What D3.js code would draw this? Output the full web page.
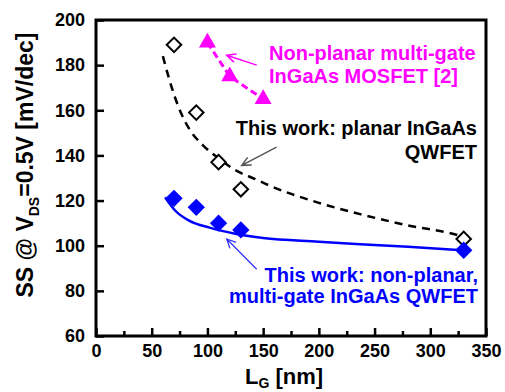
<!DOCTYPE html>
<html>
<head>
<meta charset="utf-8">
<script src="https://cdn.jsdelivr.net/npm/d3@7/dist/d3.min.js"></script>
<style>
  html, body { margin: 0; padding: 0; background: #fff; }
  svg { display: block; font-family: Arial, "Liberation Sans", sans-serif; font-weight: bold; }
</style>
</head>
<body>
<svg id="chart" width="505" height="392"></svg>
<script>
// Measured subthreshold swing vs gate length
const planarLg = [70, 90, 110, 130, 330];
const planarSS = [189, 159, 137, 125, 103];

const multiGateLg = [70, 90, 110, 130, 330];
const multiGateSS = [121, 117, 110, 107, 98];

const mosfetLg = [100, 120, 150];
const mosfetSS = [190, 175, 165];

// Trend curves drawn through each data set
const planarFitLg = [60, 65, 70, 77, 84, 96, 108, 125, 143, 155, 200, 237, 280, 320, 330];
const planarFitSS = [184, 175, 167, 158, 151.5, 144.5, 139.5, 133.5, 129.5, 126.8, 119, 114, 109, 105.3, 104];

const multiGateFitLg = [62, 71, 84, 102, 126, 150, 200, 237, 280, 330];
const multiGateFitSS = [121.5, 115.6, 111, 108, 105.2, 103.4, 101.8, 100.7, 99.5, 98];

// Axis ticks
const xTicks = [0, 50, 100, 150, 200, 250, 300, 350];
const xMinorTicks = [25, 75, 125, 175, 225, 275, 325];
const yTicks = [60, 80, 100, 120, 140, 160, 180, 200];

const margin = { top: 20, right: 19, bottom: 56, left: 96 };
const W = 505, H = 392;
const iw = W - margin.left - margin.right;
const ih = H - margin.top - margin.bottom;

const svg = d3.select("#chart");
const g = svg.append("g").attr("transform", `translate(${margin.left},${margin.top})`);

const x = d3.scaleLinear().domain([0, 350]).range([0, iw]);
const y = d3.scaleLinear().domain([60, 200]).range([ih, 0]);

// Axes with inward ticks
const xAxis = g.append("g").attr("transform", `translate(0,${ih})`)
  .call(d3.axisBottom(x).tickValues(xTicks).tickSize(-8).tickPadding(8));
const xMinor = g.append("g").attr("transform", `translate(0,${ih})`)
  .call(d3.axisBottom(x).tickValues(xMinorTicks).tickSize(-5).tickFormat(""));
const yAxis = g.append("g")
  .call(d3.axisLeft(y).tickValues(yTicks).tickSize(-8).tickPadding(11));

[xAxis, xMinor, yAxis].forEach(a => {
  a.select(".domain").remove();
  a.selectAll(".tick line").attr("stroke", "#000").attr("stroke-width", 2.5);
  a.selectAll(".tick text").attr("fill", "#000")
    .style("font-size", "18px").style("font-weight", "bold")
    .style("font-family", "Arial, 'Liberation Sans', sans-serif");
});

// Frame
g.append("rect").attr("x", 0).attr("y", 0).attr("width", iw).attr("height", ih)
  .attr("fill", "none").attr("stroke", "#000").attr("stroke-width", 3);

const line = d3.line().x(d => x(d[0])).y(d => y(d[1]));

// Planar trend (dashed black)
g.append("path")
  .datum(d3.zip(planarFitLg, planarFitSS))
  .attr("d", line.curve(d3.curveMonotoneX))
  .attr("fill", "none").attr("stroke", "#000").attr("stroke-width", 2.5)
  .attr("stroke-dasharray", "8,6");

// Multi-gate trend (solid blue)
g.append("path")
  .datum(d3.zip(multiGateFitLg, multiGateFitSS))
  .attr("d", line.curve(d3.curveMonotoneX))
  .attr("fill", "none").attr("stroke", "#0000ff").attr("stroke-width", 2.5);

// MOSFET connecting line (dashed magenta)
g.append("path")
  .datum(d3.zip(mosfetLg, mosfetSS))
  .attr("d", line.curve(d3.curveLinear))
  .attr("fill", "none").attr("stroke", "#ff00ff").attr("stroke-width", 3)
  .attr("stroke-dasharray", "7,4");

// Markers
const diamond = d3.symbol(d3.symbolSquare, 105)();
const fullDiamond = d3.symbol(d3.symbolSquare, 150)();
const tri = d3.symbol(d3.symbolTriangle, 125)();

g.selectAll(".planar").data(d3.zip(planarLg, planarSS)).join("path")
  .attr("d", diamond)
  .attr("transform", d => `translate(${x(d[0])},${y(d[1])}) rotate(45)`)
  .attr("fill", "#fff").attr("stroke", "#000").attr("stroke-width", 2);

g.selectAll(".multigate").data(d3.zip(multiGateLg, multiGateSS)).join("path")
  .attr("d", fullDiamond)
  .attr("transform", d => `translate(${x(d[0])},${y(d[1])}) rotate(45)`)
  .attr("fill", "#0000ff");

g.selectAll(".mosfet").data(d3.zip(mosfetLg, mosfetSS)).join("path")
  .attr("d", tri)
  .attr("transform", d => `translate(${x(d[0])},${y(d[1])})`)
  .attr("fill", "#ff00ff");

// Annotation arrows, tail and tip in data units
const arrows = [
  { from: [144.2, 180], to: [117.3, 184.4], color: "#ff00ff", w: 1.5 },
  { from: [162, 143.7], to: [130.8, 135.6], color: "#555555", w: 1.5 },
  { from: [144.2, 89.6], to: [117.3, 103], color: "#3333ff", w: 1.3 }
];
arrows.forEach(a => {
  const x1 = x(a.from[0]), y1 = y(a.from[1]), x2 = x(a.to[0]), y2 = y(a.to[1]);
  const ang = Math.atan2(y2 - y1, x2 - x1);
  const L = 10, spread = Math.PI / 7;
  const p1 = [x2 - L * Math.cos(ang - spread), y2 - L * Math.sin(ang - spread)];
  const p2 = [x2 - L * Math.cos(ang + spread), y2 - L * Math.sin(ang + spread)];
  g.append("path")
    .attr("d", `M${x1},${y1}L${x2},${y2}M${p1[0]},${p1[1]}L${x2},${y2}L${p2[0]},${p2[1]}`)
    .attr("fill", "none").attr("stroke", a.color).attr("stroke-width", a.w);
});

// Annotation text, anchored in data units
function label(lines, color, anchor, xv, yv, dy) {
  const t = g.append("text")
    .attr("fill", color).attr("text-anchor", anchor)
    .style("font-size", "20px");
  lines.forEach((s, i) => {
    t.append("tspan").attr("x", x(xv)).attr("y", y(yv) + i * dy).text(s);
  });
}
label(["Non-planar multi-gate", "InGaAs MOSFET [2]"], "#ff00ff", "start", 155.3, 182.2, 22.6);
label(["This work: planar InGaAs", "QWFET"], "#000", "end", 341.9, 149.0, 23.5);
label(["This work: non-planar,", "multi-gate InGaAs QWFET"], "#0000ff", "end", 342.8, 84.0, 21.5);

// Axis titles
const xt = svg.append("text")
  .attr("x", 245).attr("y", 384)
  .attr("fill", "#000").style("font-size", "22px");
xt.append("tspan").text("L");
xt.append("tspan").attr("dy", 4).style("font-size", "14px").text("G");
xt.append("tspan").attr("dy", -4).text(" [nm]");

const yt = svg.append("text")
  .attr("transform", "translate(33,165) rotate(-90)")
  .attr("text-anchor", "middle")
  .attr("fill", "#000").style("font-size", "23px");
yt.append("tspan").text("SS @ V");
yt.append("tspan").attr("dy", 6).style("font-size", "14px").text("DS");
yt.append("tspan").attr("dy", -6).text("=0.5V [mV/dec]");
</script>
</body>
</html>
